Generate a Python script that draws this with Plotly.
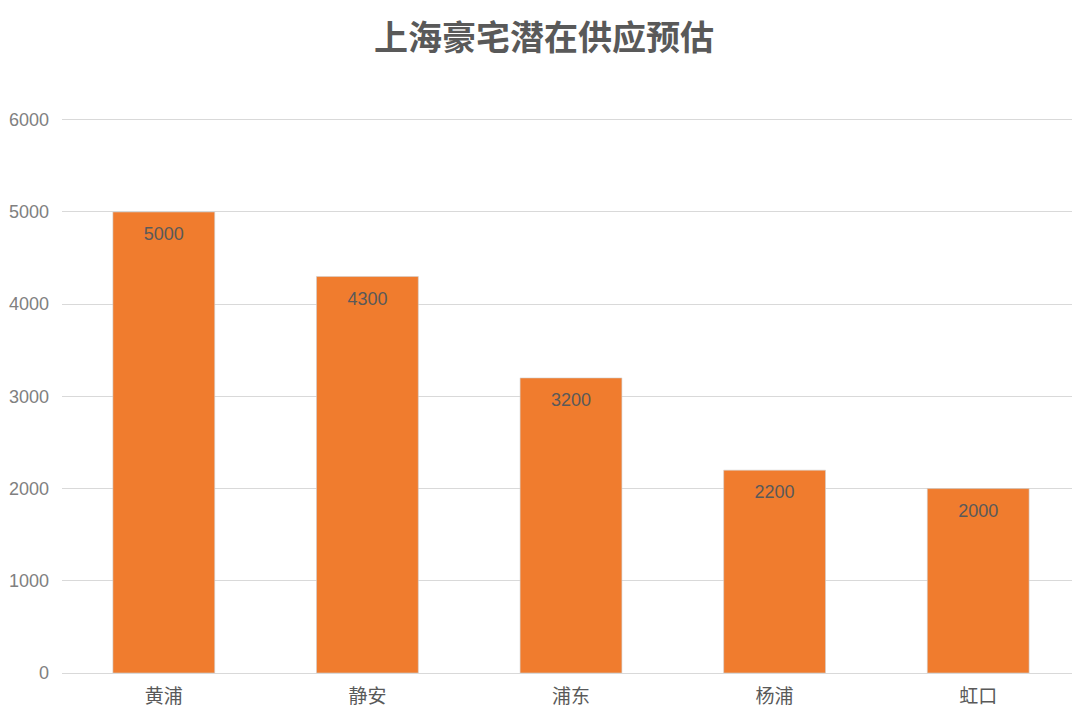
import plotly.graph_objects as go

categories = ["黄浦", "静安", "浦东", "杨浦", "虹口"]
values = [5000, 4300, 3200, 2200, 2000]
y_ticks = [0, 1000, 2000, 3000, 4000, 5000, 6000]

CJK = "Noto Sans CJK SC, sans-serif"
NUM = "Liberation Sans, Arial, sans-serif"

fig = go.Figure()
fig.add_trace(go.Bar(
    x=categories,
    y=values,
    width=0.5,
    marker=dict(color="#F07C2E", line=dict(color="#D0D0D0", width=0.6)),
    hoverinfo="x+y",
))
# value labels just inside the top of each bar
fig.add_trace(go.Scatter(
    x=categories,
    y=values,
    mode="markers+text",
    marker=dict(size=22, opacity=0),
    text=[str(v) for v in values],
    textposition="bottom center",
    textfont=dict(family=NUM, size=18, color="#595959"),
    hoverinfo="skip",
    cliponaxis=False,
))

# page body has an 8px margin, so the figure is sized to fill the rest of the window
fig.update_layout(
    width=1072, height=712,
    paper_bgcolor="white", plot_bgcolor="white",
    margin=dict(l=54, r=0, t=109, b=47),
    title=dict(text="<b>上海豪宅潜在供应预估</b>", x=0.5, xanchor="center", y=0.958, yanchor="middle",
               font=dict(family=CJK, size=34, color="#595959")),
    showlegend=False,
)
fig.update_xaxes(
    automargin=False,
    showgrid=False, showline=True, linecolor="#D9D9D9", linewidth=1,
    ticks="", ticklabelstandoff=6, tickfont=dict(family=CJK, size=19, color="#595959"),
)
fig.update_yaxes(
    automargin=False,
    range=[0, 6030], tickvals=y_ticks, showgrid=True, gridcolor="#D9D9D9", gridwidth=1,
    zeroline=False, showline=False, ticks="", ticklen=0, ticklabelstandoff=12,
    tickfont=dict(family=NUM, size=18, color="#808080"),
)

fig.write_html("out.html")
